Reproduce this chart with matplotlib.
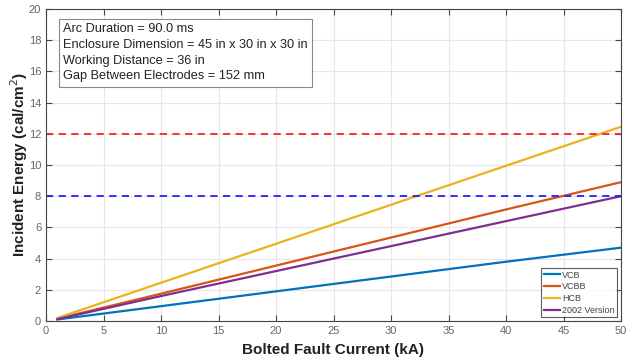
import matplotlib
matplotlib.use("Agg")
import matplotlib.pyplot as plt

current_ka = [1, 10, 20, 30, 40, 50]
vcb = [0.1, 0.95, 1.9, 2.85, 3.8, 4.7]
vcbb = [0.15, 1.75, 3.55, 5.35, 7.15, 8.9]
hcb = [0.2, 2.45, 4.95, 7.45, 9.95, 12.45]
v2002 = [0.12, 1.6, 3.2, 4.8, 6.4, 8.0]
series_names = ["VCB", "VCBB", "HCB", "2002 Version"]
threshold_red = 12
threshold_blue = 8
info_lines = ["Arc Duration = 90.0 ms",
              "Enclosure Dimension = 45 in x 30 in x 30 in",
              "Working Distance = 36 in",
              "Gap Between Electrodes = 152 mm"]

plt.rcParams['font.family'] = ['Liberation Sans', 'DejaVu Sans']

fig = plt.figure(figsize=(6.31, 3.6), dpi=100)
ax = fig.add_axes([46 / 631, 39 / 360, 575 / 631, 312 / 360])

colors = ["#0072BD", "#D95319", "#EDB120", "#7E2F8E"]
for ys, name, c in zip([vcb, vcbb, hcb, v2002], series_names, colors):
    ax.plot(current_ka, ys, color=c, lw=1.6, label=name)

ax.axhline(threshold_red, color="#FF2020", ls=(0, (4, 3)), lw=1.3)
ax.axhline(threshold_blue, color="#2020FF", ls=(0, (4, 3)), lw=1.3)

ax.set_xlim(0, 50)
ax.set_ylim(0, 20)
ax.set_xticks(range(0, 51, 5))
ax.set_yticks(range(0, 21, 2))
ax.grid(True, color="#E6E6E6", lw=0.8)
ax.set_axisbelow(True)
ax.tick_params(direction="in", top=True, right=True, labelsize=8, labelcolor="#666666",
               color="#444444", length=4)
for s in ax.spines.values():
    s.set_color("#444444")
    s.set_linewidth(0.8)

ax.set_xlabel("Bolted Fault Current (kA)", fontsize=11, fontweight="bold", color="#222222", labelpad=5)
ax.set_ylabel("Incident Energy (cal/cm$^2$)", fontsize=11, fontweight="bold", color="#222222", labelpad=-1)

ax.text(0.03, 0.955, "\n".join(info_lines), transform=ax.transAxes, fontsize=9.2,
        va="top", ha="left", linespacing=1.42, color="#222222",
        bbox=dict(boxstyle="square,pad=0.35", fc="white", ec="#888888", lw=0.8))

leg = ax.legend(loc="lower right", fontsize=6.5, frameon=True, fancybox=False,
                edgecolor="#333333", handlelength=1.8, handletextpad=0.2,
                borderpad=0.3, labelspacing=0.3, borderaxespad=0.4)
leg.get_frame().set_linewidth(0.8)
for t in leg.get_texts():
    t.set_color("#444444")

fig.savefig("out.png", dpi=100)
